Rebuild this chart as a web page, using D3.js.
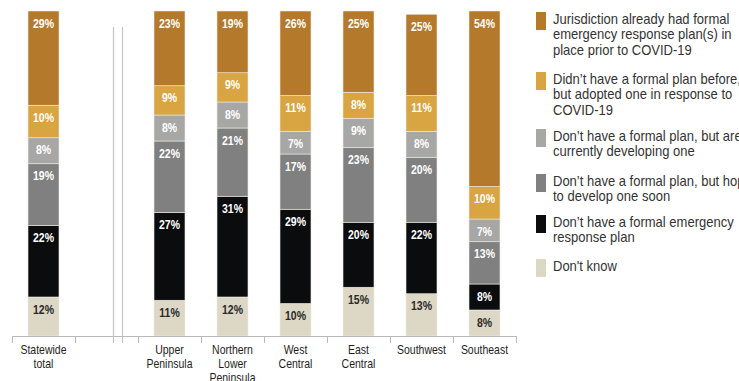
<!DOCTYPE html>
<html>
<head>
<meta charset="utf-8">
<script src="https://cdn.jsdelivr.net/npm/d3@7"></script>
<style>
  html, body { margin: 0; padding: 0; background: #fff; }
  svg { display: block; }
  text { font-family: "Liberation Sans", Arial, sans-serif; }
</style>
</head>
<body>
<svg id="chart" width="739" height="381"></svg>
<script>
// Regions (x axis), in display order; line breaks in labels use "\n"
const categories = ["Statewide\ntotal", "Upper\nPeninsula", "Northern\nLower\nPeninsula",
  "West\nCentral", "East\nCentral", "Southwest", "Southeast"];

// Share of jurisdictions (%) per response, one array per response, same order as categories
const priorPlan      = [29, 23, 19, 26, 25, 25, 54];
const adoptedPlan    = [10,  9,  9, 11,  8, 11, 10];
const developingPlan = [ 8,  8,  8,  7,  9,  8,  7];
const hopePlan       = [19, 22, 21, 17, 23, 20, 13];
const noPlan         = [22, 27, 31, 29, 20, 22,  8];
const dontKnow       = [12, 11, 12, 10, 15, 13,  8];

// Legend / series labels (top of stack first)
const seriesLabels = [
  "Jurisdiction already had formal\nemergency response plan(s) in\nplace prior to COVID-19",
  "Didn\u2019t have a formal plan before,\nbut adopted one in response to\nCOVID-19",
  "Don\u2019t have a formal plan, but are\ncurrently developing one",
  "Don\u2019t have a formal plan, but hope\nto develop one soon",
  "Don\u2019t have a formal emergency\nresponse plan",
  "Don't know"
];
const seriesColors = ["#b5792b", "#d9a442", "#a7a7a6", "#7f807f", "#0a0c0d", "#ddd8c5"];
const seriesTextColors = ["#fff", "#fff", "#fff", "#fff", "#fff", "#2a2a2a"];
const seriesValues = [priorPlan, adoptedPlan, developingPlan, hopePlan, noPlan, dontKnow];

// Horizontal squeeze that gives the regular sans a condensed look
const NARROW_LABEL = 0.84;
const NARROW_LEGEND = 0.93;

const svg = d3.select("#chart");

// Stack is built bottom-up: "Don't know" at the base
const keys = d3.range(seriesValues.length).map(String);
const rows = categories.map((c, i) => {
  const r = { cat: c };
  seriesValues.forEach((vals, k) => { r[k] = vals[i]; });
  return r;
});
const stackOrder = keys.slice().reverse();
const stacked = d3.stack().keys(stackOrder)(rows);

// A blank slot after the statewide bar separates it from the regions
const GAP = "__gap__";
const domain = [categories[0], GAP, ...categories.slice(1)];

const x = d3.scaleBand().domain(domain).range([12, 516]).paddingInner(0.508).paddingOuter(0.254);
const y = d3.scaleLinear().domain([0, 100]).range([336, 11]);

const step = x.step();
const bandStart = d => x(d) - step * x.paddingInner() / 2;

// Bars
const layer = svg.append("g").selectAll("g").data(stacked).join("g")
  .attr("fill", d => seriesColors[+d.key]);

layer.selectAll("rect").data(d => d.map(s => ({ s, key: +d.key }))).join("rect")
  .attr("x", d => x(d.s.data.cat))
  .attr("width", x.bandwidth())
  .attr("y", d => y(d.s[1]))
  .attr("height", d => y(d.s[0]) - y(d.s[1]))
  .attr("stroke", "#efece4")
  .attr("stroke-width", 0.6);

// Value labels near the top of each segment
layer.selectAll("g.val").data(d => d.map(s => ({ s, key: +d.key }))).join("g")
  .attr("class", "val")
  .attr("transform", d => `translate(${x(d.s.data.cat) + x.bandwidth() / 2},${y(d.s[1]) + 16.5}) scale(${NARROW_LABEL},1)`)
  .append("text")
  .attr("text-anchor", "middle")
  .attr("font-size", 12.5)
  .attr("font-weight", "bold")
  .attr("fill", d => seriesTextColors[d.key])
  .text(d => (d.s[1] - d.s[0]) + "%");

// Axis: baseline with ticks at band boundaries
const axisG = svg.append("g");
const axisY = y(0);
const bounds = domain.map(bandStart).concat([bandStart(domain[domain.length - 1]) + step]);
axisG.append("line")
  .attr("x1", bounds[0]).attr("x2", bounds[bounds.length - 1])
  .attr("y1", axisY + 0.5).attr("y2", axisY + 0.5)
  .attr("stroke", "#b9b9b9").attr("stroke-width", 1);
axisG.selectAll("line.tick").data(bounds).join("line")
  .attr("class", "tick")
  .attr("x1", d => Math.round(d) + 0.5).attr("x2", d => Math.round(d) + 0.5)
  .attr("y1", axisY).attr("y2", axisY + 7)
  .attr("stroke", "#b9b9b9").attr("stroke-width", 1);

// Double rule separating the statewide total from the regions
const gapX = bandStart(GAP);
[0.61, 0.75].forEach(f => {
  axisG.append("line")
    .attr("x1", Math.round(gapX + step * f) + 0.5).attr("x2", Math.round(gapX + step * f) + 0.5)
    .attr("y1", 27).attr("y2", axisY + 7)
    .attr("stroke", "#c4c4c4").attr("stroke-width", 1.2);
});

// Category labels
const catLabels = svg.append("g").selectAll("g").data(categories).join("g")
  .attr("transform", d => `translate(${x(d) + x.bandwidth() / 2},354) scale(${NARROW_LABEL},1)`)
  .append("text")
  .attr("text-anchor", "middle")
  .attr("font-size", 12.5)
  .attr("fill", "#1e1e1e");
catLabels.selectAll("tspan").data(d => d.split("\n")).join("tspan")
  .attr("x", 0)
  .attr("dy", (d, i) => i === 0 ? 0 : 14)
  .text(d => d);

// Legend
const legendTops = [12, 72, 129, 174, 215, 259];
const legend = svg.append("g").selectAll("g").data(seriesLabels).join("g")
  .attr("transform", (d, i) => `translate(536,${legendTops[i]})`);
legend.append("rect")
  .attr("width", 10).attr("height", 18)
  .attr("fill", (d, i) => seriesColors[i]);
const lt = legend.append("g")
  .attr("transform", `translate(17,12) scale(${NARROW_LEGEND},1)`)
  .append("text")
  .attr("font-size", 14)
  .attr("fill", "#333");
lt.selectAll("tspan").data(d => d.split("\n")).join("tspan")
  .attr("x", 0)
  .attr("dy", (d, i) => i === 0 ? 0 : 15.5)
  .text(d => d);
</script>
</body>
</html>
